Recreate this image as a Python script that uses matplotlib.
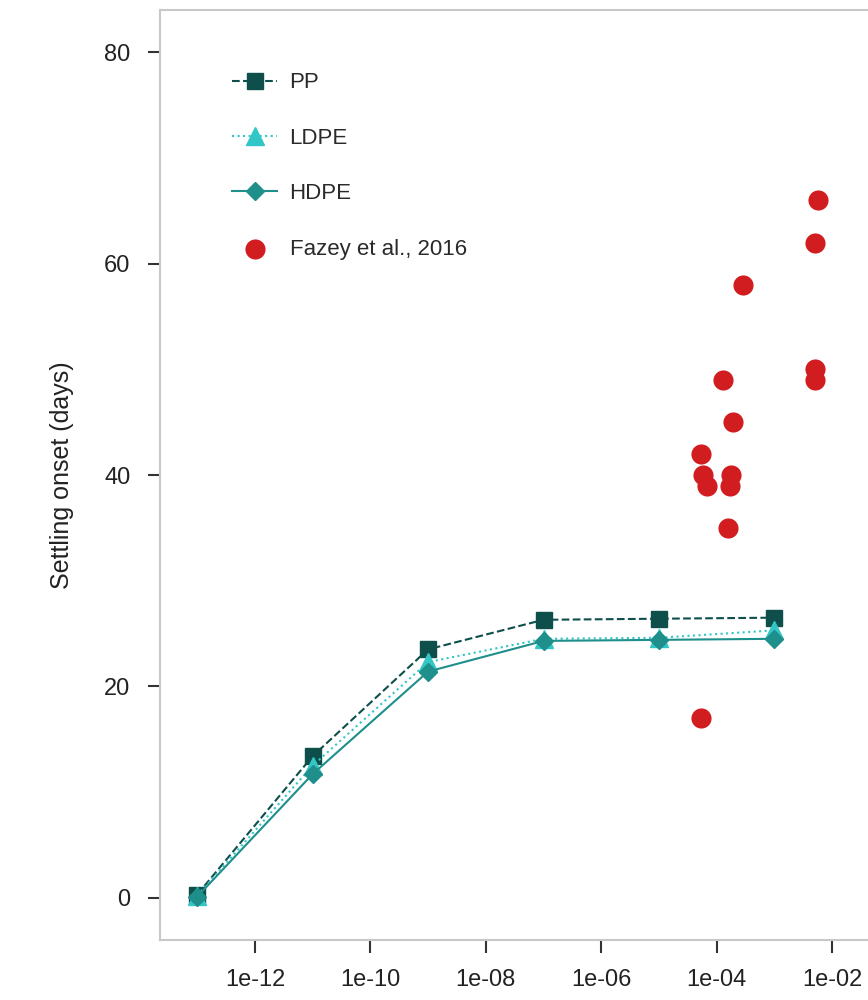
import numpy as np
import matplotlib.pyplot as plt
from matplotlib.ticker import FixedLocator, FuncFormatter

plt.rcParams['font.family'] = ['Liberation Sans', 'DejaVu Sans']

# model runs: biofilm parameter (log scale) vs settling onset
x_model = [1e-13, 1e-11, 1e-09, 1e-07, 1e-05, 1e-03]
pp = [0.3, 13.4, 23.5, 26.3, 26.4, 26.5]
ldpe = [0.2, 12.5, 22.3, 24.5, 24.6, 25.3]
hdpe = [0.1, 11.7, 21.4, 24.3, 24.4, 24.5]

# observations
fazey_x = [5.3e-5, 5.3e-5, 5.9e-5, 6.9e-5, 1.27e-4, 1.95e-4, 1.75e-4, 1.7e-4,
           1.6e-4, 2.9e-4, 5.0e-3, 5.0e-3, 5.0e-3, 5.6e-3]
fazey_y = [17, 42, 40, 39, 49, 45, 40, 39, 35, 58, 50, 49, 62, 66]

xticks = [1e-12, 1e-10, 1e-08, 1e-06, 1e-04, 1e-02]
yticks = [0, 20, 40, 60, 80]

c_pp = '#0e4f4c'
c_ldpe = '#33c6c6'
c_hdpe = '#1e8f8b'
c_obs = '#d11d1f'

fig = plt.figure(figsize=(8.68, 10), dpi=100)
ax = fig.add_axes([0.184, 0.06, 0.83, 0.93])

ax.plot(x_model, pp, ls='--', color=c_pp, lw=1.5, marker='s', ms=12, label='PP')
ax.plot(x_model, ldpe, ls=':', color=c_ldpe, lw=1.5, marker='^', ms=13, label='LDPE')
ax.plot(x_model, hdpe, ls='-', color=c_hdpe, lw=1.5, marker='D', ms=9, label='HDPE')
ax.scatter(fazey_x, fazey_y, s=210, color=c_obs, lw=0, zorder=3, label='Fazey et al., 2016')

ax.set_xscale('log')
ax.set_xlim(2.24e-14, 0.068)
ax.set_ylim(-4, 84)
ax.xaxis.set_major_locator(FixedLocator(xticks))
ax.xaxis.set_minor_locator(FixedLocator([]))
ax.xaxis.set_major_formatter(FuncFormatter(lambda v, p: f'{v:.0e}'))
ax.set_yticks(yticks)

for s in ax.spines.values():
    s.set_color('#c8c8c8')
    s.set_linewidth(1.5)

ax.tick_params(axis='both', direction='out', length=9, width=1.5, color='#333333',
               labelsize=17, labelcolor='#222222', pad=12)
ax.set_ylabel('Settling onset (days)', fontsize=18, color='#222222', labelpad=22)

ax.legend(loc='upper left', bbox_to_anchor=(0.1, 0.933), frameon=False, fontsize=16,
          labelspacing=1.55, handlelength=2.05, handletextpad=0.55, borderaxespad=0,
          borderpad=0, labelcolor='#2a2a2a')

fig.savefig('out.png', dpi=100)
